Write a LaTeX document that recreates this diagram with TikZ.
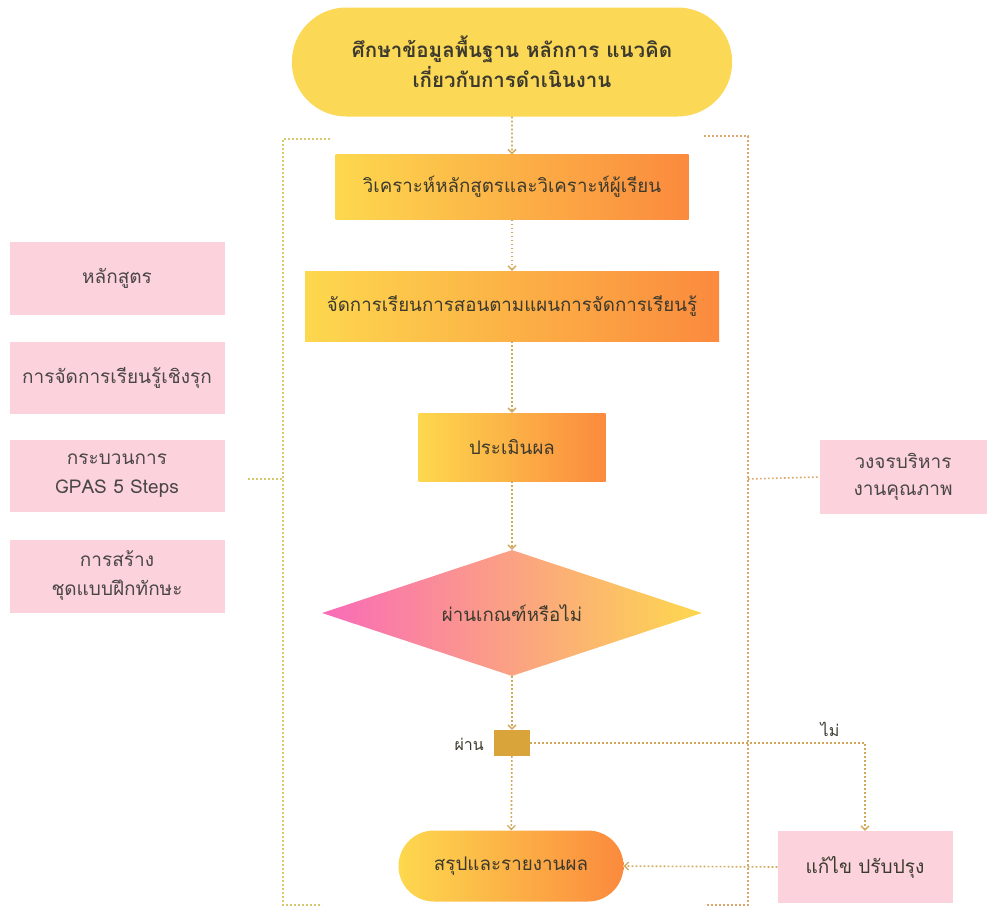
\documentclass[tikz,border=0pt]{standalone}
\usepackage{fontspec}
\setmainfont[Script=Thai]{Loma}
\usetikzlibrary{arrows.meta,shapes.geometric,shapes.misc}
\definecolor{topyellow}{HTML}{FCD857}
\definecolor{gy}{HTML}{FDD84E}
\definecolor{go}{HTML}{FB8A3E}
\definecolor{gpink}{HTML}{F96BB8}
\definecolor{pinkbox}{HTML}{FCD3DC}
\definecolor{txt}{HTML}{3C3A2E}
\definecolor{gtxt}{HTML}{4A4646}
\definecolor{conn}{HTML}{D2A85A}
\definecolor{lbr}{HTML}{D8C86C}
\definecolor{rbr}{HTML}{DAA66C}
\definecolor{sqc}{HTML}{D9A43A}
\tikzset{
  dots/.style={line width=1.6pt, dash pattern=on 1.6pt off 2.4pt},
  conline/.style={dots, draw=conn, -{Straight Barb[length=4pt,width=8pt,line width=1.3pt]}},
  gradbox/.style={rectangle, left color=gy, right color=go, text=txt, font=\fontsize{18.7}{22}\selectfont, inner sep=0pt},
  pinkbx/.style={rectangle, fill=pinkbox, text=gtxt, minimum width=215pt, font=\fontsize{19}{29}\selectfont, align=center, inner sep=0pt},
  lbl/.style={text=txt, font=\fontsize{16}{18}\selectfont, inner sep=0pt}
}
\begin{document}
\begin{tikzpicture}[x=1pt,y=-1pt]
\useasboundingbox (0,0) rectangle (987,906);
% brackets
\draw[dots, draw=lbr] (330,139) -- (283,139) -- (283,905) -- (322,905);
\draw[dots, draw=lbr] (248,479) -- (283,479);
\draw[dots, draw=rbr] (704,136) -- (748,136) -- (748,905) -- (705,905);
% nodes
\node[rounded rectangle, fill=topyellow, minimum width=447pt, minimum height=109pt, text=txt, align=center, font=\bfseries\fontsize{20.5}{30}\selectfont] (start) at (512,62) {ศึกษาข้อมูลพื้นฐาน หลักการ แนวคิด\\เกี่ยวกับการดำเนินงาน};
\node[gradbox, minimum width=353pt, minimum height=65pt] (b1) at (512,187) {วิเคราะห์หลักสูตรและวิเคราะห์ผู้เรียน};
\node[gradbox, minimum width=414pt, minimum height=70pt] (b2) at (512,306) {จัดการเรียนการสอนตามแผนการจัดการเรียนรู้};
\node[gradbox, minimum width=187pt, minimum height=68pt] (b3) at (512,447) {ประเมินผล};
\node[diamond, aspect=3, left color=gpink, right color=gy, minimum width=380pt, minimum height=126pt, inner sep=0pt, text=txt, font=\fontsize{18.7}{22}\selectfont] (dec) at (512,613) {ผ่านเกณฑ์หรือไม่};
\node[rectangle, fill=sqc, minimum width=36pt, minimum height=26pt, inner sep=0pt] (sq) at (512,743) {};
\node[lbl, anchor=east] (pass) at (484,744) {ผ่าน};
\node[lbl] (no) at (830,729) {ไม่};
\node[rounded rectangle, left color=gy, right color=go, minimum width=225pt, minimum height=71pt, text=txt, font=\fontsize{18.8}{22}\selectfont, inner sep=0pt] (end) at (511,866) {สรุปและรายงานผล};
\node[pinkbx, minimum width=175pt, minimum height=72pt, text=txt] (fix) at (865,867) {แก้ไข ปรับปรุง};
\node[pinkbx, minimum width=167pt, minimum height=74pt, font=\fontsize{19}{27}\selectfont] (qual) at (903,477) {วงจรบริหาร\\งานคุณภาพ};
\node[pinkbx, minimum height=73pt] (l1) at (117,278) {หลักสูตร};
\node[pinkbx, minimum height=72pt] (l2) at (117,378) {การจัดการเรียนรู้เชิงรุก};
\node[pinkbx, minimum height=72pt] (l3) at (117,476) {กระบวนการ\\GPAS 5 Steps};
\node[pinkbx, minimum height=73pt] (l4) at (117,576) {การสร้าง\\ชุดแบบฝึกทักษะ};
% connectors
\draw[conline] (start) -- (b1);
\draw[conline] (b1) -- (b2);
\draw[conline] (b2) -- (b3);
\draw[conline] (b3) -- (dec);
\draw[conline] (dec) -- (sq);
\draw[conline] (sq) -- (end);
\draw[conline] (sq.east) -| (fix.north);
\draw[conline] (fix.west) -- (end.east);
\draw[dots, draw=rbr] (748,479) -- (qual.west);
\end{tikzpicture}
\end{document}
